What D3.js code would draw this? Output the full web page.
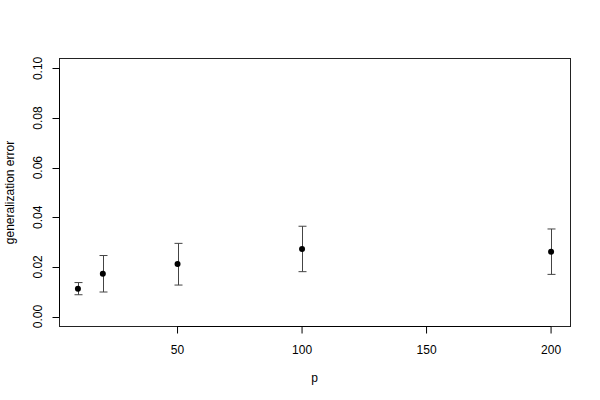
<!DOCTYPE html>
<html>
<head>
<meta charset="utf-8">
<script src="https://cdn.jsdelivr.net/npm/d3@7"></script>
<style>
  body { margin: 0; background: #fff; }
  svg { display: block; font-family: "Liberation Sans", Arial, sans-serif; }
</style>
</head>
<body>
<svg id="chart" width="600" height="400"></svg>
<script>
const pValues = [10, 20, 50, 100, 200];
const meanError = [0.0112, 0.0173, 0.0212, 0.0272, 0.0261];
const lowerError = [0.0088, 0.0099, 0.0127, 0.0181, 0.0170];
const upperError = [0.0137, 0.0246, 0.0295, 0.0364, 0.0353];
const xTicks = [50, 100, 150, 200];
const yTicks = [0.00, 0.02, 0.04, 0.06, 0.08, 0.10];

const svg = d3.select("#chart");
const plot = { left: 59, right: 570, top: 58.5, bottom: 326.5 };

// R-style 4% extension
const xr = [d3.min(pValues), d3.max(pValues)];
const xpad = (xr[1] - xr[0]) * 0.04;
const x = d3.scaleLinear().domain([xr[0] - xpad, xr[1] + xpad]).range([plot.left, plot.right]);
const ypad = 0.1 * 0.04;
const y = d3.scaleLinear().domain([0 - ypad, 0.1 + ypad]).range([plot.bottom, plot.top]);

// box
svg.append("rect")
  .attr("x", plot.left + 0.5).attr("y", plot.top)
  .attr("width", plot.right - plot.left).attr("height", plot.bottom - plot.top)
  .attr("fill", "none").attr("stroke", "#222").attr("stroke-width", 1);

// x axis
const xAxis = svg.append("g");
xAxis.append("line")
  .attr("x1", x(xTicks[0])).attr("x2", x(xTicks[xTicks.length - 1]))
  .attr("y1", plot.bottom).attr("y2", plot.bottom)
  .attr("stroke", "#000");
xTicks.forEach(t => {
  xAxis.append("line")
    .attr("x1", x(t)).attr("x2", x(t))
    .attr("y1", plot.bottom).attr("y2", plot.bottom + 7)
    .attr("stroke", "#000");
  xAxis.append("text")
    .attr("x", x(t)).attr("y", plot.bottom + 27)
    .attr("text-anchor", "middle").attr("font-size", 12)
    .text(t);
});

// y axis
const yAxis = svg.append("g");
yAxis.append("line")
  .attr("x1", plot.left + 0.5).attr("x2", plot.left + 0.5)
  .attr("y1", y(yTicks[0])).attr("y2", y(yTicks[yTicks.length - 1]))
  .attr("stroke", "#000");
yTicks.forEach(t => {
  yAxis.append("line")
    .attr("x1", plot.left + 0.5).attr("x2", plot.left - 6.5)
    .attr("y1", Math.round(y(t)) + 0.5).attr("y2", Math.round(y(t)) + 0.5)
    .attr("stroke", "#000");
  yAxis.append("text")
    .attr("transform", `translate(${plot.left - 17},${y(t)}) rotate(-90)`)
    .attr("text-anchor", "middle").attr("font-size", 12)
    .text(d3.format(".2f")(t));
});

// axis titles
svg.append("text")
  .attr("x", (plot.left + plot.right) / 2).attr("y", 382)
  .attr("text-anchor", "middle").attr("font-size", 12)
  .text("p");
svg.append("text")
  .attr("transform", `translate(14,${(plot.top + plot.bottom) / 2}) rotate(-90)`)
  .attr("text-anchor", "middle").attr("font-size", 12)
  .text("generalization error");

// error bars
const data = pValues.map((p, i) => ({ p, m: meanError[i], lo: lowerError[i], hi: upperError[i] }));
const eb = svg.append("g").attr("stroke", "#444").attr("stroke-width", 1);
data.forEach(d => {
  const cx = Math.round(x(d.p)) + 0.5;
  eb.append("line").attr("x1", cx).attr("x2", cx).attr("y1", y(d.lo)).attr("y2", y(d.hi));
  eb.append("line").attr("x1", cx - 4).attr("x2", cx + 4).attr("y1", y(d.lo)).attr("y2", y(d.lo));
  eb.append("line").attr("x1", cx - 4).attr("x2", cx + 4).attr("y1", y(d.hi)).attr("y2", y(d.hi));
});

// points
svg.append("g").selectAll("circle").data(data).join("circle")
  .attr("cx", d => x(d.p)).attr("cy", d => y(d.m))
  .attr("r", 3).attr("fill", "#000");
</script>
</body>
</html>
